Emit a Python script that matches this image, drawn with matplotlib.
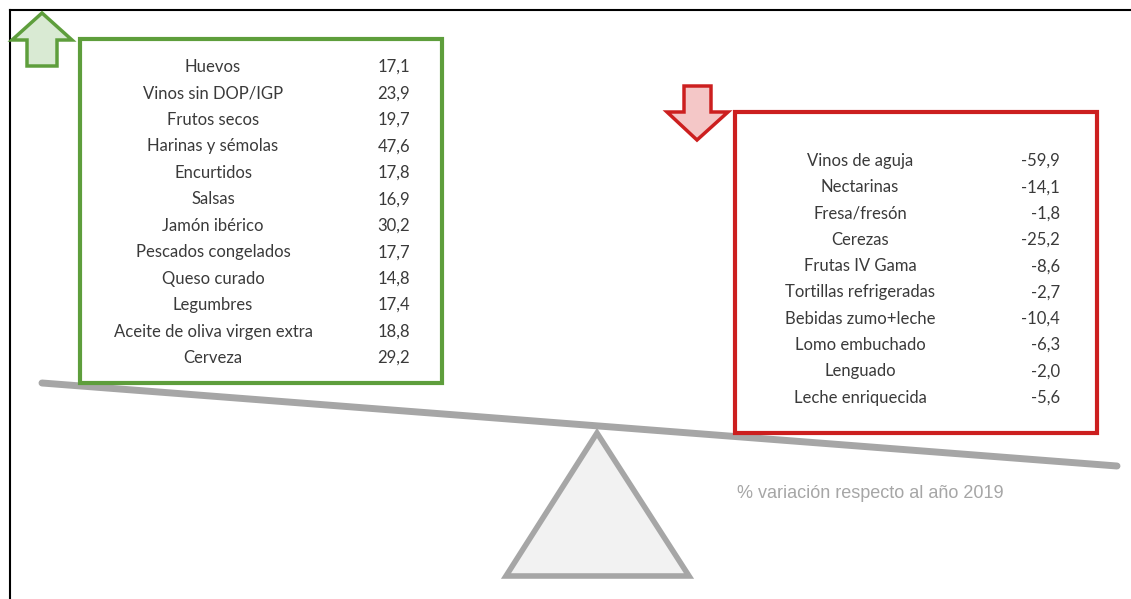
import matplotlib.pyplot as plt
from matplotlib.patches import Polygon, Rectangle

# productos que suben (% variación respecto a 2019)
up_labels = ['Huevos', 'Vinos sin DOP/IGP', 'Frutos secos', 'Harinas y sémolas',
             'Encurtidos', 'Salsas', 'Jamón ibérico', 'Pescados congelados',
             'Queso curado', 'Legumbres', 'Aceite de oliva virgen extra', 'Cerveza']
up_values = [17.1, 23.9, 19.7, 47.6, 17.8, 16.9, 30.2, 17.7, 14.8, 17.4, 18.8, 29.2]

# productos que bajan
down_labels = ['Vinos de aguja', 'Nectarinas', 'Fresa/fresón', 'Cerezas',
               'Frutas IV Gama', 'Tortillas refrigeradas', 'Bebidas zumo+leche',
               'Lomo embuchado', 'Lenguado', 'Leche enriquecida']
down_values = [-59.9, -14.1, -1.8, -25.2, -8.6, -2.7, -10.4, -6.3, -2.0, -5.6]

caption = '% variación respecto al año 2019'

W, H = 1131, 599
fig = plt.figure(figsize=(W / 100, H / 100), dpi=100)
ax = fig.add_axes([0, 0, 1, 1])
ax.set_xlim(0, W)
ax.set_ylim(H, 0)
ax.axis('off')

def fmt(v):
    return f'{v:.1f}'.replace('.', ',')

font = 'Lato'
fs = 12
txt_col = '#3a3a3a'
gray = '#a6a6a6'

# marco
ax.plot([10, W], [10, 10], color='black', lw=1.5)
ax.plot([10, 10], [10, H], color='black', lw=1.5)

# balanza
ax.plot([42, 1117], [383, 466], color=gray, lw=5, solid_capstyle='round', zorder=1)
ax.add_patch(Polygon([(597, 433), (506, 576), (689, 576)], closed=True,
                     facecolor='#f2f2f2', edgecolor=gray, lw=4, joinstyle='miter', zorder=1))

# flecha verde
green = '#5e9e3c'
ax.add_patch(Polygon([(42, 13), (72, 40), (57, 40), (57, 66), (27, 66), (27, 40), (12, 40)],
                     closed=True, facecolor='#d9ead3', edgecolor=green, lw=2.5, zorder=3))
# caja verde
ax.add_patch(Rectangle((80, 39), 362, 344, facecolor='white', edgecolor=green, lw=3, zorder=2))
step = 26.45
for i, (lab, v) in enumerate(zip(up_labels, up_values)):
    y = 67 + i * step
    ax.text(213, y, lab, ha='center', va='center', fontsize=fs, family=font, color=txt_col, zorder=4)
    ax.text(410, y, fmt(v), ha='right', va='center', fontsize=fs, family=font, color=txt_col, zorder=4)

# flecha roja
red = '#cc1f1f'
ax.add_patch(Polygon([(697, 140), (667, 112), (684, 112), (684, 86), (711, 86), (711, 112), (728, 112)],
                     closed=True, facecolor='#f4c7c7', edgecolor=red, lw=2.5, zorder=3))
# caja roja
ax.add_patch(Rectangle((735, 112), 362, 321, facecolor='white', edgecolor=red, lw=3, zorder=2))
step = 26.3
for i, (lab, v) in enumerate(zip(down_labels, down_values)):
    y = 161 + i * step
    ax.text(860, y, lab, ha='center', va='center', fontsize=fs, family=font, color=txt_col, zorder=4)
    ax.text(1060, y, fmt(v), ha='right', va='center', fontsize=fs, family=font, color=txt_col, zorder=4)

ax.text(737, 493, caption, ha='left', va='center', fontsize=13,
        family='Liberation Sans', color=gray)

fig.savefig('out.png', dpi=100)
